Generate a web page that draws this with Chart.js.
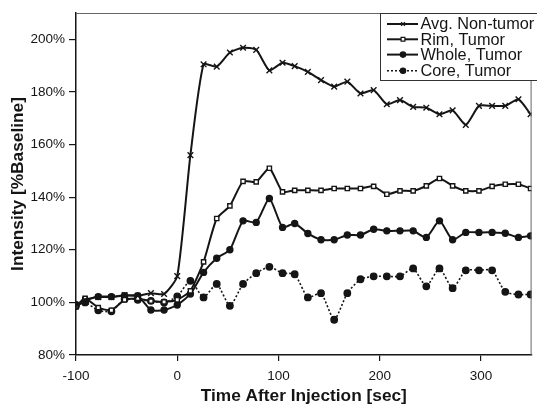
<!DOCTYPE html>
<html><head><meta charset="utf-8">
<script src="https://cdn.jsdelivr.net/npm/chart.js@4"></script>
<style>html,body{margin:0;padding:0;background:#fff}#wrap{width:537px;height:408px}</style>
</head><body><div id="wrap"><canvas id="c" width="537" height="408"></canvas></div>
<script>
const times = [-100,-91,-78,-65,-52,-39,-26,-13,0,13,26,39,52,65,78,91,104,116,129,142,155,168,181,194,207,220,233,246,259,272,285,298,311,324,337,349];
const seriesNames = ['Avg. Non-tumor','Rim, Tumor','Whole, Tumor','Core, Tumor'];
const avgNonTumor = [98.5,101,102,102,102.8,102.5,103.5,103.2,110,156,190.5,189.6,195,196.8,196,188.2,191.1,189.8,187.6,184.5,182,183.9,179.4,180.7,175.3,176.9,174.3,174,171.5,173,167.5,174.7,174.7,174.7,177.2,171.5];
const rimTumor = [98.5,101.5,98,97,101,101.5,100.5,100.2,101,104.4,115.4,131.9,136.7,146,145.8,151,142,142.6,142.6,142.6,143.3,143.3,143.3,144.1,141.1,142.4,142.4,144.3,147.1,144.3,142.4,142.4,144.1,144.9,144.9,143.3];
const wholeTumor = [98.5,100.5,102.2,102.2,102.5,102.5,97.1,97.1,99,103.2,111.4,116.8,120,131,130.4,139.5,128.5,130,126.2,123.8,123.8,125.6,125.6,127.8,127.2,127.2,127.2,124.7,131,123.8,126.6,126.6,126.6,126.3,124.7,125.3];
const coreTumor = [99,100,97,96.6,101.3,101,100.6,100,102.3,108.2,101.9,107,98.7,107,111.1,113.5,111.1,110.7,101.9,103.5,93.4,103.5,108.8,109.9,109.9,109.9,112.9,106.1,112.9,105.4,112.2,112.2,112.2,104,103,103];
const xTicks = [-100,0,100,200,300];
const yTicks = [80,100,120,140,160,180,200];
const xTitle = 'Time After Injection [sec]';
const yTitle = 'Intensity [%Baseline]';

const FONT = "'Liberation Sans', Arial, sans-serif";
const INK = '#151515';
const pts = arr => times.map((t,i)=>({x:t,y:arr[i]}));

const styles = [
  {pointStyle:'crossRot', pointRadius:4, pointBackgroundColor:INK, borderDash:[]},
  {pointStyle:'rect', pointRadius:3, pointBackgroundColor:'#fff', borderDash:[]},
  {pointStyle:'circle', pointRadius:3, pointBackgroundColor:INK, borderDash:[]},
  {pointStyle:'circle', pointRadius:3.2, pointBackgroundColor:INK, borderDash:[2,2]}
];
const seriesData = [avgNonTumor, rimTumor, wholeTumor, coreTumor];
const datasets = seriesData.map((arr,i)=>({
  label: seriesNames[i],
  data: pts(arr),
  borderColor: INK,
  borderWidth: i===3 ? 1.6 : 2,
  borderDash: styles[i].borderDash,
  pointStyle: styles[i].pointStyle,
  pointRadius: styles[i].pointRadius,
  pointBorderColor: INK,
  pointBackgroundColor: styles[i].pointBackgroundColor,
  pointBorderWidth: 1.4,
  tension: 0.2,
  fill: false
}));

const framePlugin = {
  id:'frame',
  afterDraw(chart){
    const {ctx, chartArea:a} = chart;
    ctx.save();
    ctx.strokeStyle = '#666';
    ctx.lineWidth = 1;
    ctx.beginPath();
    ctx.moveTo(a.left, a.top+0.5);
    ctx.lineTo(a.right-0.5, a.top+0.5);
    ctx.lineTo(a.right-0.5, a.bottom);
    ctx.stroke();
    // legend
    const lx = 380, ly = 13, lw = 160, lh = 67;
    ctx.fillStyle = '#fff';
    ctx.fillRect(lx, ly, lw, lh);
    ctx.strokeStyle = '#333';
    ctx.lineWidth = 1;
    ctx.strokeRect(lx+0.5, ly+0.5, lw, lh);
    const rows = [24, 39.3, 54.6, 70.8];
    ctx.font = '16.3px ' + FONT;
    ctx.textBaseline = 'middle';
    ctx.textAlign = 'left';
    chart.data.datasets.forEach((ds,i)=>{
      const y = rows[i];
      ctx.strokeStyle = INK;
      ctx.lineWidth = ds.borderWidth;
      ctx.setLineDash(ds.borderDash || []);
      ctx.beginPath(); ctx.moveTo(387,y); ctx.lineTo(418,y); ctx.stroke();
      ctx.setLineDash([]);
      ctx.fillStyle = ds.pointBackgroundColor;
      ctx.strokeStyle = INK;
      ctx.lineWidth = 1.2;
      Chart.helpers.drawPoint(ctx, {pointStyle: ds.pointStyle, radius: 2.7, borderWidth: 1.2, rotation:0}, 403, y);
      ctx.fillStyle = INK;
      ctx.fillText(ds.label, 420.5, y+1);
    });
    ctx.restore();
  }
};

new Chart(document.getElementById('c'), {
  type:'line',
  data:{datasets},
  options:{
    responsive:false,
    devicePixelRatio:1,
    animation:false,
    layout:{padding:{top:13,right:1,left:0,bottom:0}},
    plugins:{legend:{display:false}, tooltip:{enabled:false}},
    scales:{
      x:{
        type:'linear', min:-100, max:350,
        afterFit(s){ s.height = 53; },
        afterBuildTicks(s){ s.ticks = xTicks.map(v=>({value:v})); },
        ticks:{color:INK, font:{family:FONT, size:13.5}, padding:7, maxRotation:0, callback:v=>String(v)},
        grid:{drawOnChartArea:false, drawTicks:true, tickLength:6, color:INK, lineWidth:1.2},
        border:{display:true, color:INK, width:1.5},
        title:{display:true, text:xTitle, color:INK, font:{family:FONT, size:17.3, weight:'bold'}, padding:{top:0,bottom:1}}
      },
      y:{
        type:'linear', min:80, max:210,
        afterFit(s){ s.width = 76; },
        afterBuildTicks(s){ s.ticks = yTicks.map(v=>({value:v})); },
        ticks:{color:INK, font:{family:FONT, size:13.5}, padding:4, callback:v=>v+'%'},
        grid:{drawOnChartArea:false, drawTicks:true, tickLength:7, color:INK, lineWidth:1.2},
        border:{display:true, color:INK, width:1.5},
        title:{display:true, text:yTitle, color:INK, font:{family:FONT, size:17.3, weight:'bold'}, padding:{top:8,bottom:0}}
      }
    }
  },
  plugins:[framePlugin]
});
</script></body></html>
